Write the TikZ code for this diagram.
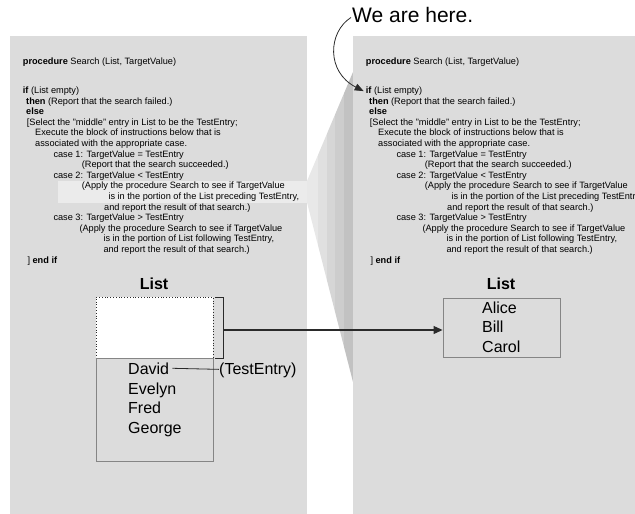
\documentclass[tikz,border=0pt]{standalone}
\usepackage{fontspec}
\setmainfont{Liberation Sans}
\usetikzlibrary{arrows.meta}

\definecolor{panel}{HTML}{DCDCDC}
\definecolor{glow}{HTML}{EBEBEB}
\definecolor{frame}{HTML}{858585}
\definecolor{ink}{HTML}{2A2A2A}
\definecolor{bandA}{HTML}{E8E8E8}
\definecolor{bandB}{HTML}{E0E0E0}
\definecolor{bandC}{HTML}{D6D6D6}
\definecolor{bandD}{HTML}{CDCDCD}
\definecolor{bandE}{HTML}{C2C2C2}

\tikzset{
  code/.style={anchor=base west, inner sep=0pt, font=\fontsize{9.2}{10}\selectfont},
  entry/.style={anchor=base west, inner sep=0pt, font=\fontsize{16}{18}\selectfont},
  heading/.style={anchor=base, inner sep=0pt, font=\fontsize{16}{18}\selectfont\bfseries},
  listbox/.style={draw=frame, line width=0.9pt, inner sep=0pt},
  pointer/.style={draw=ink, line width=1.1pt, -{Triangle[length=9pt,width=8pt]}},
  thin link/.style={draw=ink, line width=0.8pt},
}

% The binary search procedure, one node per printed line; #1 prefixes the names
\newcommand\searchcode[1]{%
  \node[code] (#1-proc) at (22.7,64.5) {\textbf{procedure} Search (List, TargetValue)};
  \node[code] (#1-if)   at (22.7,93.5) {\textbf{if} (List empty)};
  \node[code] (#1-then) at (26,104.1)   {\textbf{then} (Report that the search failed.)};
  \node[code] (#1-else) at (26,114.7)  {\textbf{else}};
  \node[code] (#1-sel)  at (26.7,125.3)  {[Select the "middle" entry in List to be the TestEntry;};
  \node[code] (#1-exe)  at (35,135.9)  {Execute the block of instructions below that is};
  \node[code] (#1-asc)  at (35,146.5)  {associated with the appropriate case.};
  \node[code] (#1-c1)   at (53.3,157.1) {case 1: TargetValue = TestEntry};
  \node[code] (#1-c1a)  at (81.7,167.7) {(Report that the search succeeded.)};
  \node[code] (#1-c2)   at (53.3,178.3) {case 2: TargetValue < TestEntry};
  \node[code] (#1-c2a)  at (81.7,188.9) {(Apply the procedure Search to see if TargetValue};
  \node[code] (#1-c2b)  at (108.3,199.5) {is in the portion of the List preceding TestEntry,};
  \node[code] (#1-c2c)  at (104,210.1) {and report the result of that search.)};
  \node[code] (#1-c3)   at (53.3,220.7) {case 3: TargetValue > TestEntry};
  \node[code] (#1-c3a)  at (79.3,231.3) {(Apply the procedure Search to see if TargetValue};
  \node[code] (#1-c3b)  at (103.3,241.9) {is in the portion of List following TestEntry,};
  \node[code] (#1-c3c)  at (103.3,252.5) {and report the result of that search.)};
  \node[code] (#1-end)  at (27.3,263.1) {] \textbf{end if}};
}

\begin{document}
\begin{tikzpicture}[x=1pt, y=-1pt]
  \useasboundingbox (0,0) rectangle (635,514);

  % two activation panels
  \fill[panel] (10,36) rectangle (307,514);
  \fill[panel] (353,36) rectangle (635,514);

  % highlighted recursive call and the widening wedge
  \fill[glow] (58,181) rectangle (307,202.5);
  \begin{scope}
    \clip (307,181) -- (353,72) -- (353,382) -- (307,202.5) -- cycle;
    \fill[bandA] (307,60) rectangle (318,400);
    \fill[bandB] (318,60) rectangle (327,400);
    \fill[bandC] (327,60) rectangle (335,400);
    \fill[bandD] (335,60) rectangle (344,400);
    \fill[bandE] (344,60) rectangle (353,400);
  \end{scope}

  % left panel: code and the list being searched
  \searchcode{L}
  \node[heading] (Lhead) at (154,289) {List};
  \node[listbox, minimum width=117pt, minimum height=103pt] (lower) at (154.5,409.5) {};
  \node[draw=ink, dotted, line width=0.8pt, fill=white, inner sep=0pt,
        minimum width=117pt, minimum height=61pt] (upper) at (154.5,327.5) {};
  \draw[frame, line width=0.9pt] (upper.south west) -- (upper.south east);
  \node[entry] (david)  at (128,374) {David};
  \node[entry] (evelyn) at (128,394) {Evelyn};
  \node[entry] (fred)   at (128,413) {Fred};
  \node[entry] (george) at (128,433) {George};
  \node[entry] (testentry) at (219,374) {(TestEntry)};
  \draw[thin link] ([xshift=3pt]david.east) -- ([yshift=0.5pt]testentry.west);

  % bracket around the first half of the list
  \coordinate (bt) at (215,297);
  \coordinate (bb) at (215,358);
  \coordinate (brk) at (223,330);
  \draw[ink, line width=0.8pt] (bt) -- ++(8,0) -- ++(0,61) -- (bb);

  % right panel: the same procedure applied to the first half
  \begin{scope}
    \clip (353,36) rectangle (635,514);
    \begin{scope}[xshift=343]
      \searchcode{R}
    \end{scope}
  \end{scope}
  \node[heading] (Rhead) at (501,289) {List};
  \node[listbox, minimum width=117pt, minimum height=59pt] (sublist) at (501.5,327.5) {};
  \node[entry] (alice) at (482,313.5) {Alice};
  \node[entry] (bill)  at (482,332.5) {Bill};
  \node[entry] (carol) at (482,352.5) {Carol};

  \draw[pointer] (brk) -- (sublist.west |- brk);

  % position marker
  \node[anchor=base west, inner sep=0pt, font=\fontsize{21}{25}\selectfont] (here) at (352,22) {We are here.};
  \draw[ink, line width=0.8pt, -{Triangle[length=9pt,width=7pt]}]
    ([xshift=-1pt,yshift=-3pt]here.west) .. controls (328,32) and (326,72) .. ([xshift=-2pt]R-if.west);
\end{tikzpicture}
\end{document}
